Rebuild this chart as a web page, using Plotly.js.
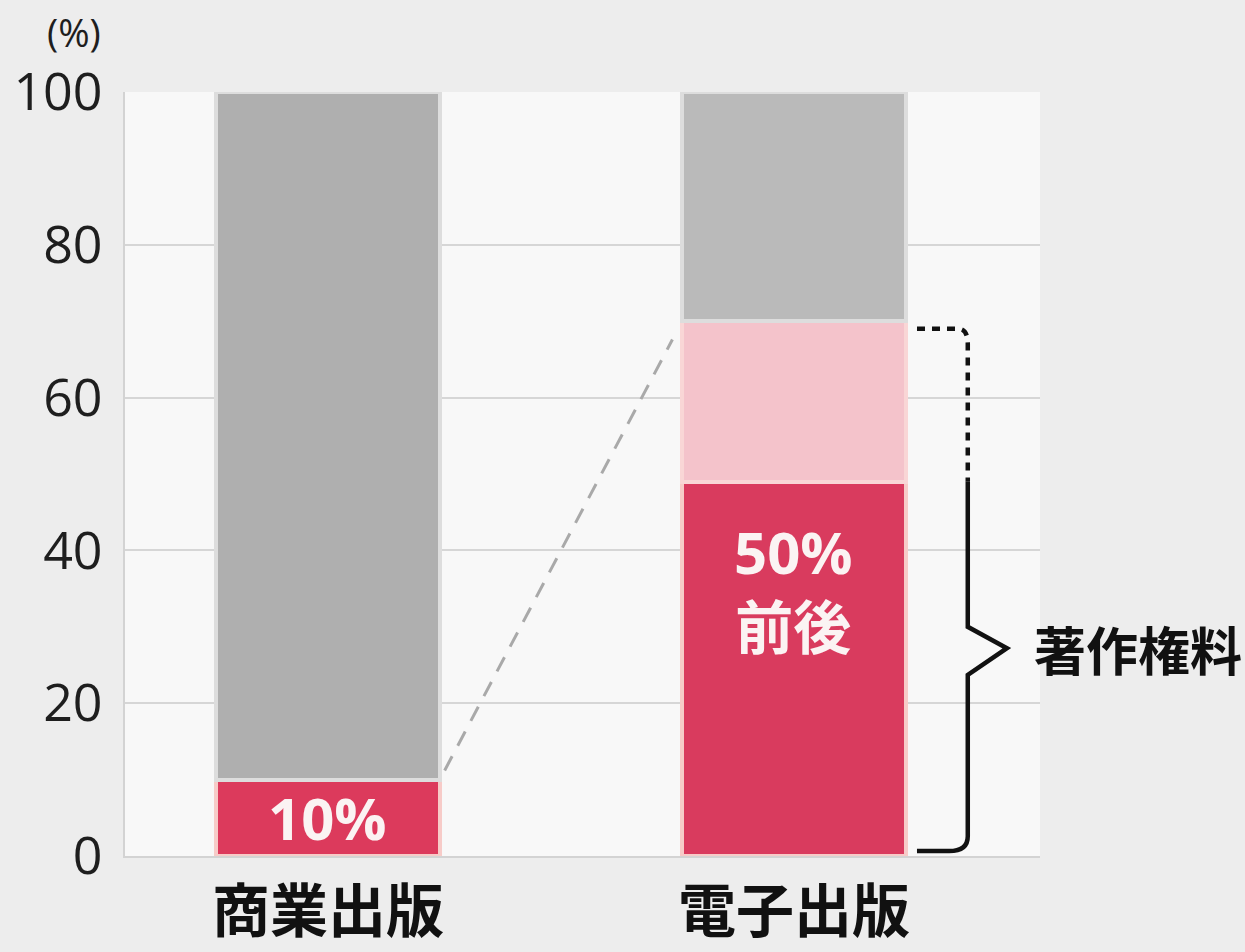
<!DOCTYPE html>
<html>
<head>
<meta charset="utf-8">
<script src="https://cdn.plot.ly/plotly-3.0.1.min.js"></script>
<style>html,body{margin:0;padding:0;background:#ededed;}</style>
</head>
<body>
<div id="chart" style="width:1245px;height:952px;"></div>
<script>
// ---- data ----
const categories = ['商業出版', '電子出版'];
const catPos = [0, 1];
const royaltyBase = [10, 49];      // solid red segment
const royaltyRange = [0, 21];      // light pink segment (upper range of royalty)
const publisherShare = [90, 30];   // grey segment
const barLabels = ['10%', '50%<br>前後'];
const bracketLabel = '著作権料';
const yTicks = [0, 20, 40, 60, 80, 100];
const yUnit = '(%)';

const BW = 0.48;
const CJK = '"Noto Sans CJK JP", "Noto Sans CJK SC", sans-serif';

const traces = [
  {
    type: 'bar', x: catPos, y: royaltyBase, width: BW,
    marker: {color: ['#dc3a5c', '#d93b5e'], line: {color: '#f7cbc8', width: 4}},
    hoverinfo: 'skip', showlegend: false
  },
  {
    type: 'bar', x: catPos, y: royaltyRange, width: BW,
    marker: {color: '#f4c3cb', line: {color: '#f9d6d6', width: 4}},
    hoverinfo: 'skip', showlegend: false
  },
  {
    type: 'bar', x: catPos, y: publisherShare, width: BW,
    marker: {color: ['#afafaf', '#bababa'], line: {color: '#dddddd', width: 4}},
    hoverinfo: 'skip', showlegend: false
  }
];

// dashed connector: top of royalty in 1st bar -> top of royalty range in 2nd bar
const topA = royaltyBase[0] + royaltyRange[0];
const topB = royaltyBase[1] + royaltyRange[1];
const x0 = catPos[0] + BW / 2, x1 = catPos[1] - BW / 2;
const t0 = 0.02, t1 = 0.96;
traces.push({
  type: 'scatter', mode: 'lines',
  x: [x0 + (x1 - x0) * t0, x0 + (x1 - x0) * t1],
  y: [topA + (topB - topA) * t0, topA + (topB - topA) * t1],
  line: {color: '#a9a9a9', width: 3, dash: '16px,12px'},
  hoverinfo: 'skip', showlegend: false, cliponaxis: false
});

// brace geometry (decoration), in data coords
const bx0 = 1.264, bxv = 1.373, btip = 1.457;
const yTopBrace = topB - 1, ySolid = royaltyBase[1], yTip = 27.2;
const shapes = [
  {
    type: 'path', xref: 'x', yref: 'y',
    path: `M ${bx0},${yTopBrace} L ${bxv - 0.02},${yTopBrace} Q ${bxv},${yTopBrace} ${bxv},${yTopBrace - 2} L ${bxv},${ySolid}`,
    line: {color: '#111111', width: 4.5, dash: '8px,7px'}
  },
  {
    type: 'path', xref: 'x', yref: 'y',
    path: `M ${bxv},${ySolid} L ${bxv},${yTip + 2.8} L ${btip},${yTip} L ${bxv},${yTip - 3.5} L ${bxv},${2.6} Q ${bxv},${0.65} ${bxv - 0.04},${0.65} L ${bx0},${0.65}`,
    line: {color: '#111111', width: 4.5}
  }
];

const annotations = [
  {
    x: catPos[0], y: royaltyBase[0] / 2, xref: 'x', yref: 'y',
    text: '<b>' + barLabels[0] + '</b>', showarrow: false,
    font: {family: '"Open Sans", ' + CJK, size: 58, color: '#fbf3f3'}
  },
  {
    x: catPos[1], y: (royaltyBase[1] + royaltyRange[1]) / 2, xref: 'x', yref: 'y',
    text: '<b>' + barLabels[1] + '</b>', showarrow: false,
    font: {family: '"Open Sans", ' + CJK, size: 58, color: '#fbf3f3'}
  },
  {
    x: 1.511, y: yTip, xref: 'x', yref: 'y', xanchor: 'left', yanchor: 'middle',
    text: '<b>' + bracketLabel + '</b>', showarrow: false,
    font: {family: CJK, size: 52, color: '#111111'}
  },
  {
    x: -0.024, y: 1.078, xref: 'paper', yref: 'paper', xanchor: 'right', yanchor: 'middle',
    text: yUnit, showarrow: false,
    font: {family: '"Open Sans", sans-serif', size: 38, color: '#1e1e1e'}
  }
];

const layout = {
  width: 1245, height: 952, autosize: false,
  margin: {l: 125, r: 205, t: 92, b: 96},
  paper_bgcolor: '#ededed',
  plot_bgcolor: '#f8f8f8',
  barmode: 'stack',
  bargap: 0,
  showlegend: false,
  xaxis: {
    type: 'linear', range: [-0.4356, 1.528],
    tickvals: catPos, ticktext: categories.map(c => '<b>' + c + '</b>'),
    tickfont: {family: CJK, size: 58, color: '#111111'},
    showgrid: false, zeroline: false,
    showline: true, linecolor: '#d3d3d3', linewidth: 2,
    ticks: '', ticklabelstandoff: 4, fixedrange: true
  },
  yaxis: {
    range: [0, 100], tickvals: yTicks,
    tickfont: {family: '"Open Sans", sans-serif', size: 52, color: '#1e1e1e'},
    gridcolor: '#d6d6d6', gridwidth: 2,
    zeroline: false, showline: true, linecolor: '#d3d3d3', linewidth: 2,
    ticks: '', ticklabelstandoff: 10, fixedrange: true
  },
  shapes: shapes,
  annotations: annotations
};

Plotly.newPlot('chart', traces, layout, {displayModeBar: false, staticPlot: true});
</script>
</body>
</html>
